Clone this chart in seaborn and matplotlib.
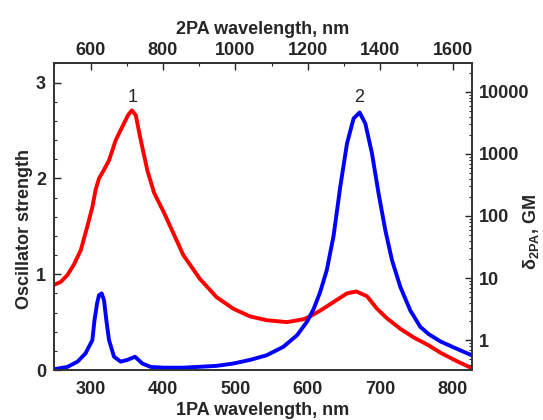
import matplotlib
matplotlib.use("Agg")
import numpy as np
import seaborn as sns
import matplotlib.pyplot as plt
from matplotlib.ticker import FixedLocator, MultipleLocator, NullFormatter, FuncFormatter, LogLocator

# 1PA spectrum (curve 1), oscillator strength, left axis
wl_1pa = [250, 259, 268, 277, 286.5, 295.6, 302.5, 307, 311.7, 318.6, 325.6, 334.8,
          343.9, 351.8, 356.9, 362.4, 369.3, 378.5, 387.7, 401.5, 428, 451, 474, 497,
          520, 543, 571, 594, 603, 617, 635.4, 653.9, 666.7, 681.5, 695.3, 709, 727.5,
          746, 766, 783, 806, 826]
osc_strength = [0.89, 0.92, 0.99, 1.10, 1.25, 1.50, 1.70, 1.88, 2.00, 2.09, 2.19, 2.40,
                2.54, 2.66, 2.71, 2.66, 2.40, 2.08, 1.85, 1.64, 1.20, 0.95, 0.76, 0.64,
                0.56, 0.52, 0.50, 0.53, 0.56, 0.62, 0.71, 0.80, 0.82, 0.77, 0.64, 0.54,
                0.43, 0.34, 0.26, 0.18, 0.09, 0.02]

# 2PA spectrum (curve 2), delta_2PA in GM, right log axis
wl_2pa = [250, 268, 282, 293, 302.5, 305.5, 309, 311.7, 315.4, 318.6, 321.8, 325.5,
          332.4, 341.6, 350.8, 361.4, 371.5, 383, 401.5, 428, 474, 497, 520, 543, 566,
          585, 599, 608, 617, 626, 635.4, 644.6, 653.9, 663, 671.3, 679.2, 688.4, 697.5,
          706.8, 716, 727.5, 741.3, 755, 766.6, 783, 806, 826]
delta_gm = [0.34, 0.37, 0.45, 0.61, 1.0, 2.1, 3.9, 5.3, 5.65, 4.4, 2.1, 1.0,
            0.54, 0.45, 0.48, 0.54, 0.42, 0.37, 0.36, 0.36, 0.385, 0.42, 0.48, 0.57, 0.78,
            1.2, 2.0, 3.2, 6.0, 13.4, 48, 295, 1470, 3720, 4650, 3090, 1015, 230,
            59, 19.4, 7.2, 3.0, 1.64, 1.25, 0.95, 0.72, 0.57]

left_ticks = [0, 1, 2, 3]
right_ticks = [1, 10, 100, 1000, 10000]
bottom_ticks = [300, 400, 500, 600, 700, 800]
top_ticks = [600, 800, 1000, 1200, 1400, 1600]

sns.set_style("white")
plt.rcParams["font.family"] = ["Liberation Sans", "DejaVu Sans"]
plt.rcParams["font.weight"] = "bold"
plt.rcParams["mathtext.fontset"] = "custom"
plt.rcParams["mathtext.bf"] = "Liberation Sans:bold"
plt.rcParams["mathtext.rm"] = "Liberation Sans:bold"

fig = plt.figure(figsize=(5.43, 4.2), dpi=100)
ax = fig.add_axes([0.1, 0.119, 0.7687, 0.73])

sns.lineplot(x=wl_1pa, y=osc_strength, ax=ax, color="#ff0000", lw=2.8, sort=False)
ax.set_xlim(250, 826)
ax.set_ylim(0, 3.2)
ax.set_xlabel("1PA wavelength, nm", fontsize=13, fontweight="bold", labelpad=3)
ax.set_ylabel("Oscillator strength", fontsize=13, fontweight="bold", labelpad=2)
ax.yaxis.label.set_y(0.46)
ax.yaxis.set_major_locator(FixedLocator(left_ticks))
ax.yaxis.set_minor_locator(MultipleLocator(0.2))
ax.xaxis.set_major_locator(FixedLocator(bottom_ticks))
ax.xaxis.set_minor_locator(MultipleLocator(20))
ax.tick_params(axis="both", which="major", direction="in", length=5, width=1,
               labelsize=13)
ax.tick_params(axis="x", which="major", pad=8)
ax.tick_params(axis="y", which="major", pad=6)
ax.tick_params(axis="both", which="minor", direction="in", length=2.5, width=0.8)
ax.tick_params(axis="y", which="both", right=False)

ax2 = ax.twinx()
sns.lineplot(x=wl_2pa, y=delta_gm, ax=ax2, color="#0000ff", lw=2.8, sort=False)
ax2.set_yscale("log")
ax2.set_ylim(0.33, 28700)
ax2.yaxis.set_major_locator(FixedLocator(right_ticks))
ax2.yaxis.set_minor_locator(LogLocator(base=10, subs=np.arange(2, 10)))
ax2.yaxis.set_major_formatter(FuncFormatter(lambda v, p: f"{v:g}"))
ax2.yaxis.set_minor_formatter(NullFormatter())
ax2.tick_params(axis="y", which="major", direction="in", length=5, width=1,
                labelsize=13, pad=5)
ax2.tick_params(axis="y", which="minor", direction="in", length=2.5, width=0.8)
ax2.set_ylabel("δ$_{\\mathbf{2PA}}$, GM", fontsize=13, fontweight="bold")
ax2.yaxis.set_label_coords(1.118, 0.45)

top = ax.secondary_xaxis("top", functions=(lambda x: 2 * x, lambda x: x / 2))
top.xaxis.set_major_locator(FixedLocator(top_ticks))
top.xaxis.set_minor_locator(MultipleLocator(100))
top.tick_params(which="major", direction="in", length=5, width=1, labelsize=13, pad=3)
top.tick_params(which="minor", direction="in", length=2.5, width=0.8)
top.set_xlabel("2PA wavelength, nm", fontsize=13, fontweight="bold", labelpad=6)

for a in (ax, ax2, top):
    for s in a.spines.values():
        s.set_color("#333333")
        s.set_linewidth(1.2)

ax.text(358, 2.80, "1", fontsize=13, fontweight="normal", ha="center", va="baseline")
ax.text(670, 2.80, "2", fontsize=13, fontweight="normal", ha="center", va="baseline")

fig.savefig("out.png", dpi=100)
